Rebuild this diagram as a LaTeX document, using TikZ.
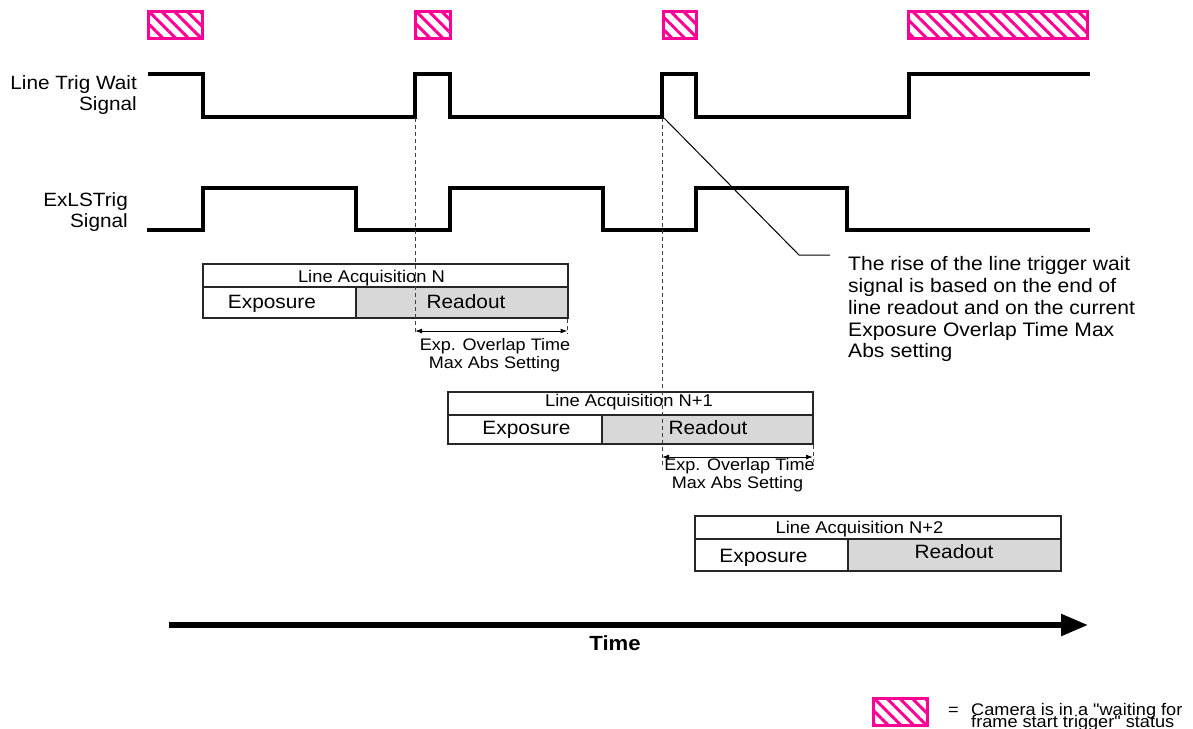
\documentclass[tikz,border=0pt]{standalone}
\usepackage{fontspec}
\setmainfont{Liberation Sans}[FakeStretch=1.08, Ligatures=TeXOff]
\usetikzlibrary{patterns.meta,arrows.meta}
\definecolor{hot}{RGB}{255,0,150}
\definecolor{cellgray}{RGB}{216,216,216}
\tikzset{
  sig/.style={line width=3.2pt, line join=miter, line cap=butt},
  hatchbox/.style={draw=hot, line width=3pt, pattern={Lines[angle=-45,distance=9pt,line width=3pt]}, pattern color=hot},
  boxline/.style={line width=1.3pt, draw=black!85},
  guide/.style={line width=0.8pt, draw=black!75, dash pattern=on 4pt off 3pt},
  span/.style={line width=1pt, {Latex[length=7pt,width=5pt]}-{Latex[length=7pt,width=5pt]}},
  lbl/.style={font=\fontsize{19.2}{21}\selectfont, inner sep=0pt, anchor=base east},
  hdr/.style={font=\fontsize{17}{19}\selectfont, inner sep=0pt, anchor=base},
  celltxt/.style={font=\fontsize{19.3}{21}\selectfont, inner sep=0pt, anchor=base},
  ovl/.style={font=\fontsize{16.7}{18}\selectfont, inner sep=0pt, anchor=base},
  note/.style={font=\fontsize{19.5}{21.7}\selectfont, inner sep=0pt, anchor=base west},
  legtxt/.style={font=\fontsize{16.8}{12}\selectfont, inner sep=0pt, anchor=base west}
}
\begin{document}
\begin{tikzpicture}[x=1pt,y=-1pt]
\useasboundingbox (0,0) rectangle (1193,728);

% waiting-status hatched boxes
\path[hatchbox] (148.5,11.5) rectangle (202.5,38.5);
\path[hatchbox] (415.5,11.5) rectangle (450.5,38.5);
\path[hatchbox] (663.5,11.5) rectangle (696.5,38.5);
\path[hatchbox] (908.5,11.5) rectangle (1087.5,38.5);

% signal labels
\node[lbl] (ltw1) at (137,89) {Line Trig Wait};
\node[lbl] (ltw2) at (137,110) {Signal};
\node[lbl] (ex1) at (128,206) {ExLSTrig};
\node[lbl] (ex2) at (128,227) {Signal};

% Line Trig Wait signal
\draw[sig] (148,74) -- (203,74) -- (203,117) -- (415,117) -- (415,74) -- (450,74) -- (450,117)
  -- (662,117) -- (662,74) -- (696,74) -- (696,117) -- (909,117) -- (909,74) -- (1090,74);

% ExLSTrig signal
\draw[sig] (147,230) -- (203,230) -- (203,188) -- (356,188) -- (356,230) -- (450,230) -- (450,188)
  -- (603,188) -- (603,230) -- (696,230) -- (696,188) -- (847,188) -- (847,230) -- (1090,230);

% Line Acquisition N
\fill[cellgray] (356,287) rectangle (568,318);
\draw[boxline] (203,264) rectangle (568,318);
\draw[boxline] (203,287) -- (568,287);
\draw[boxline] (356,287) -- (356,318);
\node[hdr] (hN) at (371.5,282) {Line Acquisition N};
\node[celltxt] (eN) at (272,308) {Exposure};
\node[celltxt] (rN) at (466,308) {Readout};

% Line Acquisition N+1
\fill[cellgray] (602,415) rectangle (813,444);
\draw[boxline] (448,392) rectangle (813,444);
\draw[boxline] (448,415) -- (813,415);
\draw[boxline] (602,415) -- (602,444);
\node[hdr] (hN1) at (629,406.5) {Line Acquisition N+1};
\node[celltxt] (eN1) at (526.5,434) {Exposure};
\node[celltxt] (rN1) at (708,434) {Readout};

% Line Acquisition N+2
\fill[cellgray] (848,539) rectangle (1061,571);
\draw[boxline] (695,516) rectangle (1061,571);
\draw[boxline] (695,539) -- (1061,539);
\draw[boxline] (848,539) -- (848,571);
\node[hdr] (hN2) at (859.5,533) {Line Acquisition N+2};
\node[celltxt] (eN2) at (763.5,562) {Exposure};
\node[celltxt] (rN2) at (954,558) {Readout};

% guides and overlap spans
\coordinate (g1t) at (415,118);
\coordinate (g1b) at (415,334);
\coordinate (g2t) at (567.5,319);
\coordinate (g2b) at (567.5,334);
\coordinate (g3t) at (662,118);
\coordinate (g3b) at (662,468);
\coordinate (g4t) at (813,445);
\coordinate (g4b) at (813,462);
\draw[guide] (g1t) -- (g1b);
\draw[guide] (g2t) -- (g2b);
\draw[guide] (g3t) -- (g3b);
\draw[guide] (g4t) -- (g4b);
\coordinate (s1a) at (415,331);
\coordinate (s1b) at (567.5,331);
\coordinate (s2a) at (662,457);
\coordinate (s2b) at (813,457);
\draw[span] (s1a) -- (s1b);
\draw[span] (s2a) -- (s2b);
\node[ovl] (o1a) at (495,350) {Exp. Overlap Time};
\node[ovl] (o1b) at (494.5,368) {Max Abs Setting};
\node[ovl] (o2a) at (739.5,470) {Exp. Overlap Time};
\node[ovl] (o2b) at (737.5,488) {Max Abs Setting};

% callout
\coordinate (cp) at (664,118);
\coordinate (ck) at (799,255);
\coordinate (ce) at (830,255);
\draw[line width=1pt] (cp) -- (ck) -- (ce);
\node[note] (n1) at (848,270.7) {The rise of the line trigger wait};
\node[note] (n2) at (848,292.5) {signal is based on the end of};
\node[note] (n3) at (848,314.3) {line readout and on the current};
\node[note] (n4) at (848,336) {Exposure Overlap Time Max};
\node[note] (n5) at (848,357.8) {Abs setting};

% time axis
\coordinate (t0) at (169,625);
\coordinate (t1) at (1088,625);
\draw[line width=5.5pt, -{Triangle[length=27pt,width=21pt]}] (t0) -- (t1);
\node[font=\bfseries\fontsize{20.5}{22}\selectfont, inner sep=0pt, anchor=base] (time) at (615,650.7) {Time};

% legend
\path[hatchbox] (873.5,698.5) rectangle (927.5,725.5);
\node[legtxt] (leq) at (948,715.5) {=};
\node[legtxt] (l1) at (971,715.5) {Camera is in a "waiting for};
\node[legtxt] (l2) at (971,727.3) {frame start trigger" status};
\end{tikzpicture}
\end{document}
